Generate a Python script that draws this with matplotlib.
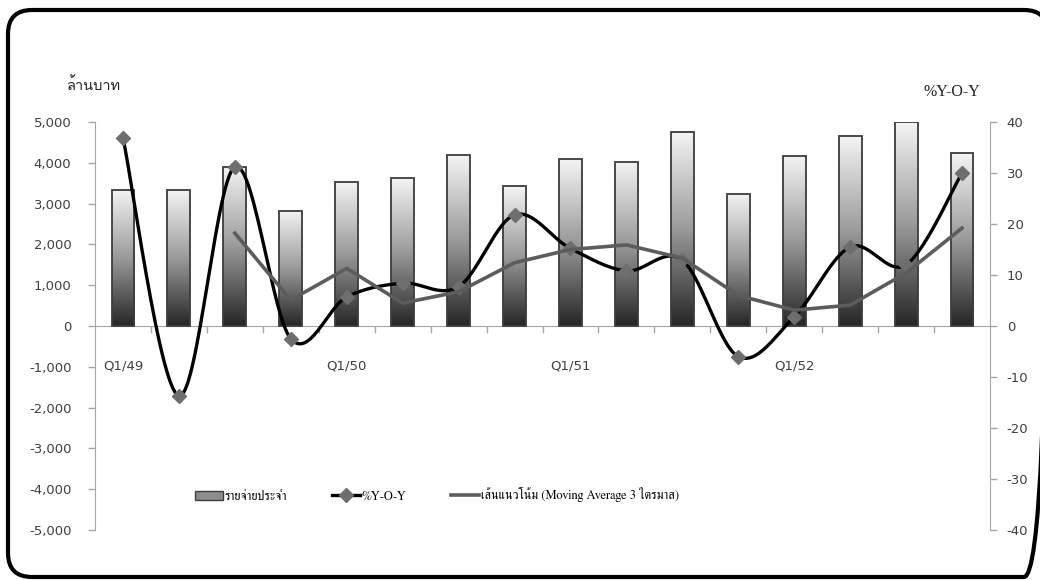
import numpy as np
import matplotlib
matplotlib.use('Agg')
import matplotlib.pyplot as plt
from matplotlib.colors import LinearSegmentedColormap
from matplotlib.patches import FancyBboxPatch, Patch
from matplotlib.lines import Line2D

# ##### data #####
quarters = ['Q1/49', '', '', '', 'Q1/50', '', '', '', 'Q1/51', '', '', '', 'Q1/52', '', '', '']
spending = [3340, 3330, 3900, 2820, 3540, 3620, 4190, 3430, 4090, 4020, 4750, 3240, 4170, 4650, 5000, 4230]
yoy = [36.9, -13.7, 31.2, -2.5, 5.7, 8.4, 7.7, 21.8, 15.2, 10.8, 12.9, -6.0, 1.8, 15.5, 12.0, 30.0]
ma3 = [np.nan, np.nan, 18.2, 5.1, 11.3, 4.5, 6.7, 12.4, 15.0, 15.9, 13.3, 6.0, 3.1, 4.1, 10.4, 19.2]

left_ticks = [-5000, -4000, -3000, -2000, -1000, 0, 1000, 2000, 3000, 4000, 5000]
right_ticks = [-40, -30, -20, -10, 0, 10, 20, 30, 40]

thai_sans = ['Loma', 'DejaVu Sans']
thai_serif = ['FreeSerif', 'Loma', 'DejaVu Sans']


# excel style smoothed line (bezier through the points)
def smooth(xs, ys, n=30):
    xs = np.asarray(xs, float)
    ys = np.asarray(ys, float)
    px = np.concatenate([[xs[0]], xs, [xs[-1]]])
    py = np.concatenate([[ys[0]], ys, [ys[-1]]])
    t = np.linspace(0, 1, n)[:, None]
    out = []
    for i in range(len(xs) - 1):
        p0 = np.array([px[i], py[i]])
        p1 = np.array([px[i + 1], py[i + 1]])
        p2 = np.array([px[i + 2], py[i + 2]])
        p3 = np.array([px[i + 3], py[i + 3]])
        c1 = p1 + (p2 - p0) / 6
        c2 = p2 - (p3 - p1) / 6
        seg = ((1 - t) ** 3) * p1 + 3 * ((1 - t) ** 2) * t * c1 + 3 * (1 - t) * t ** 2 * c2 + t ** 3 * p2
        out.append(seg)
    out = np.vstack(out)
    return out[:, 0], out[:, 1]


grey = '#a6a6a6'
txt = '#404040'

fig = plt.figure(figsize=(10.4, 5.8), dpi=100)

# rounded frame round the figure, on an axes in pixel units
fa = fig.add_axes([0, 0, 1, 1], zorder=-1)
fa.set_xlim(0, 1040)
fa.set_ylim(580, 0)
fa.axis('off')
fa.add_patch(FancyBboxPatch((8, 10), 1040, 567, boxstyle='round,pad=0,rounding_size=24',
                            facecolor='none', edgecolor='black', linewidth=3, clip_on=False))

ax = fig.add_axes([95 / 1040, 50 / 580, 895 / 1040, 408 / 580])
ax.patch.set_alpha(0)
ax2 = ax.twinx()

x = np.arange(len(spending))
w = 0.41
cmap = LinearSegmentedColormap.from_list('g', ['#262626', '#9a9a9a', '#f4f4f4'])
grad = np.linspace(0, 1, 256).reshape(-1, 1)
bars = ax.bar(x, spending, width=w, facecolor='none', edgecolor='#3c3c3c', linewidth=1.3, zorder=3)
for b in bars:
    im = ax.imshow(grad, extent=[b.get_x(), b.get_x() + b.get_width(), 0, b.get_height()],
                   origin='lower', aspect='auto', cmap=cmap, zorder=2, interpolation='bicubic')
    im.set_clip_path(b)

ax.set_xlim(-0.5, len(spending) - 0.5)
ax.set_ylim(-5000, 5000)
for s in ['top', 'right']:
    ax.spines[s].set_visible(False)
ax.spines['bottom'].set_position(('data', 0))
ax.spines['bottom'].set_color(grey)
ax.spines['left'].set_color(grey)
ax.set_yticks(left_ticks)
ax.set_yticklabels(['{:,}'.format(v) for v in left_ticks], fontsize=9.5, color=txt)
ax.set_xticks(x)
ax.set_xticklabels(quarters, fontsize=9.5, color=txt)
ax.set_xticks(x[:-1] + 0.5, minor=True)

xs, ys = smooth(x, yoy)
ax2.plot(xs, ys, color='black', lw=2.4, zorder=3)
ax2.plot(x, yoy, ls='none', marker='D', ms=7.5, color='#6e6e6e', zorder=4)
ax2.plot(x, ma3, color='#5c5c5c', lw=2.6, zorder=5)
ax2.set_ylim(-40, 40)
for s in ['top', 'left', 'bottom']:
    ax2.spines[s].set_visible(False)
ax2.spines['right'].set_color(grey)
ax2.set_yticks(right_ticks)
ax2.set_yticklabels([str(v) for v in right_ticks], fontsize=9.5, color=txt)

ax.tick_params(axis='x', which='major', length=0, pad=24)
ax.tick_params(axis='x', which='minor', length=5, color=grey, width=1, direction='out')
ax.tick_params(axis='y', which='major', length=5, color=grey, width=1, pad=12)
ax2.tick_params(axis='y', which='major', length=5, color=grey, width=1, pad=7)

fig.text(67 / 1040, 1 - 85 / 580, 'ล้านบาท', family=thai_sans, fontsize=10.5, color='#202020', va='center')
fig.text(923 / 1040, 1 - 92 / 580, '%Y-O-Y', family='Liberation Serif', fontsize=11.5, color='#202020', va='center')

handles = [Patch(facecolor='#8c8c8c', edgecolor='#3c3c3c'),
           Line2D([], [], color='black', lw=2.4, marker='D', ms=7, mfc='#6e6e6e', mec='#6e6e6e'),
           Line2D([], [], color='#5c5c5c', lw=2.6)]
labels = ['รายจ่ายประจำ', '%Y-O-Y', 'เส้นแนวโน้ม (Moving Average 3 ไตรมาส)']
leg = fig.legend(handles, labels, loc='center', bbox_to_anchor=(437 / 1040, 1 - 495 / 580), ncol=3,
                 frameon=False, handlelength=2.2, handletextpad=0.15, columnspacing=3.6,
                 prop={'family': thai_serif, 'size': 9})

fig.savefig('out.png', dpi=100)
